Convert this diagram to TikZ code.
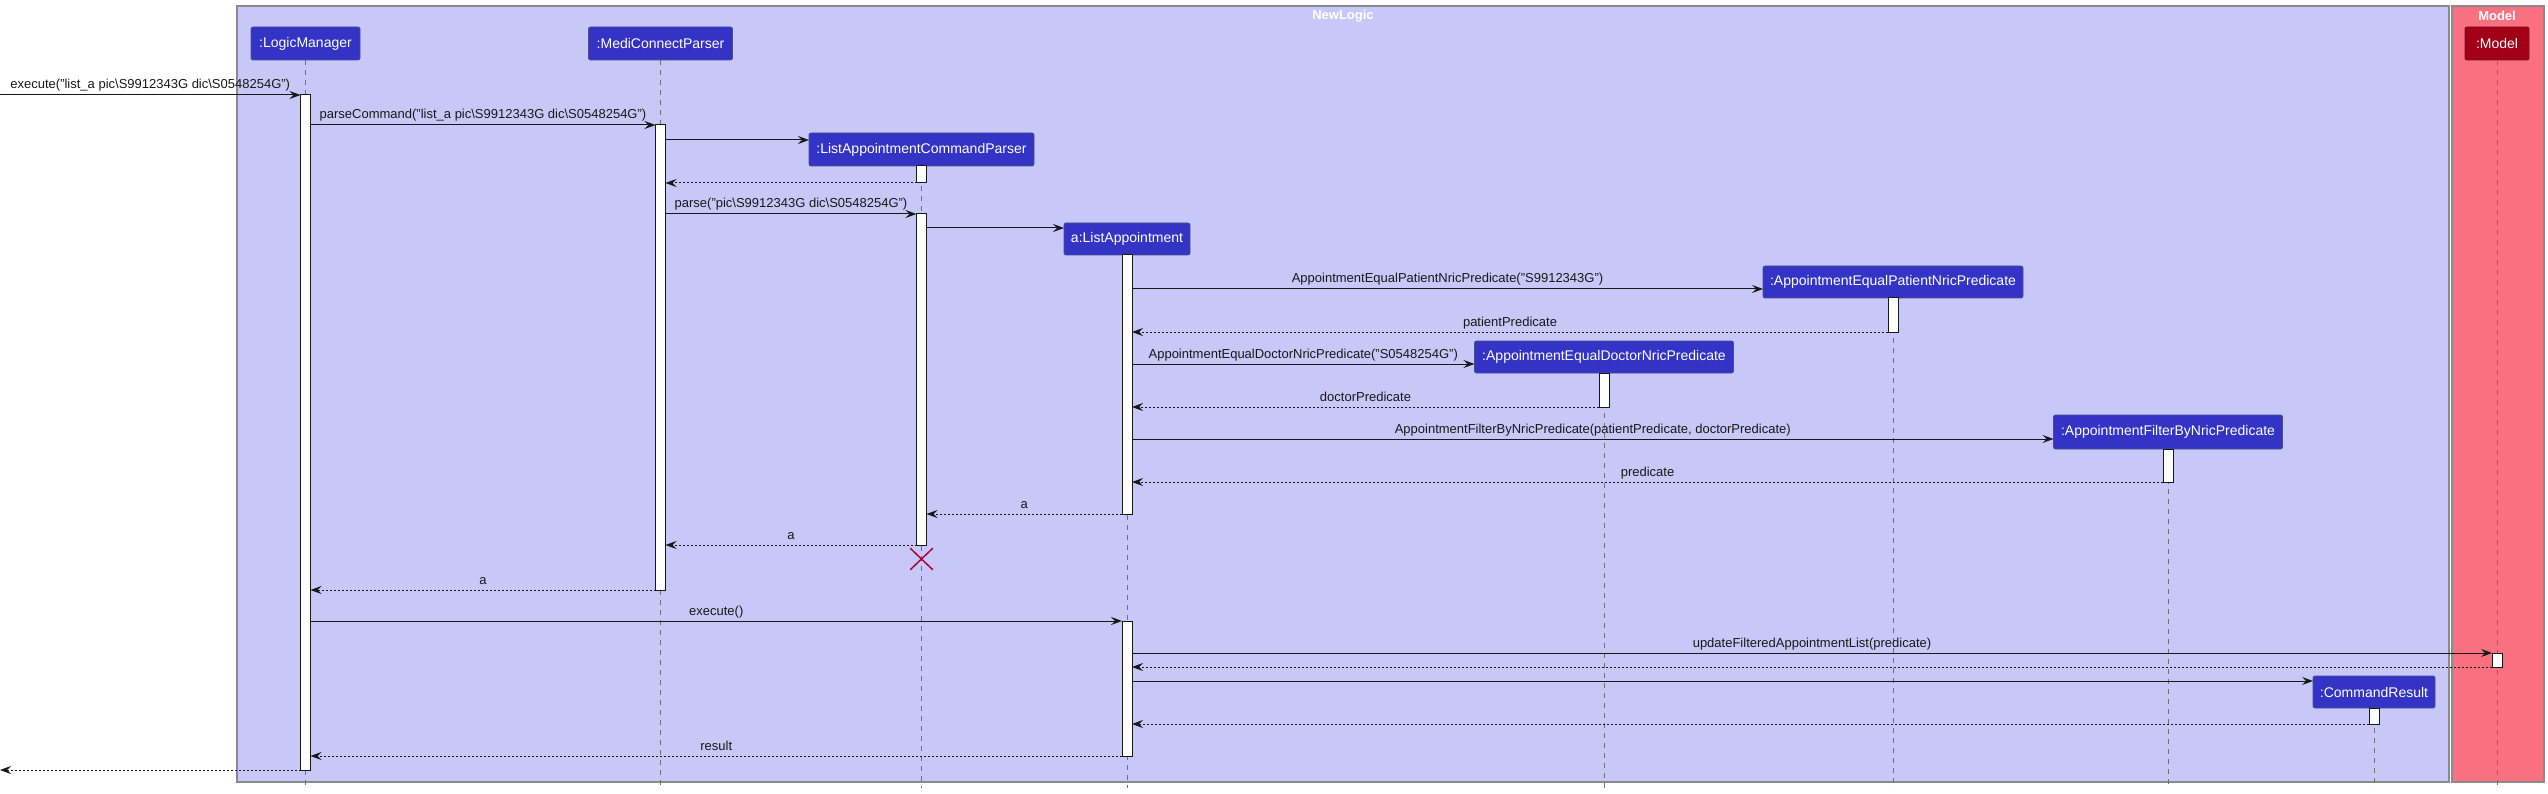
\documentclass[tikz,border=0pt]{standalone}
\usepackage{fontspec}
\setmainfont{Liberation Sans}
\usetikzlibrary{arrows.meta,shapes.misc}
\definecolor{logicbg}{HTML}{C8C8F8}
\definecolor{modelbg}{HTML}{F97181}
\definecolor{partblue}{HTML}{3333C5}
\definecolor{partborder}{HTML}{4B4B90}
\definecolor{modelbox}{HTML}{A10016}
\definecolor{modelborder}{HTML}{7A1020}
\definecolor{framegray}{HTML}{8A8A8A}
\definecolor{lifegray}{HTML}{707070}
\definecolor{destroyred}{HTML}{B0003A}
\definecolor{ink}{HTML}{181818}
\newcommand\bs{\textbackslash}
\newcommand\actbarnode[4]{\node[actbar, minimum height={(#4-#3)*1pt}] (#1) at (#2,{(#3+#4)/2}) {};}
\begin{document}
\begin{tikzpicture}[x=1pt,y=-1pt,
  part/.style={rectangle, rounded corners=2pt, fill=partblue, draw=partborder, line width=0.8pt, text=white, font=\fontsize{14}{16}\selectfont, inner sep=0pt, outer sep=0pt, minimum height=33pt},
  actbar/.style={rectangle, fill=white, draw=ink, line width=1pt, inner sep=0pt, outer sep=0pt, minimum width=10pt},
  lifeline/.style={draw=lifegray, line width=0.7pt, dash pattern=on 5pt off 5pt},
  call/.style={draw=ink, line width=1pt, -{Stealth[length=11pt,width=8pt,inset=4pt]}},
  ret/.style={draw=ink, line width=1pt, dash pattern=on 2pt off 2pt, -{Stealth[length=11pt,width=8pt,inset=4pt]}},
  lbl/.style={anchor=base, inner sep=0pt, yshift=6pt, font=\fontsize{13}{15}\selectfont, text=ink},
  boxtitle/.style={font=\bfseries\fontsize{13}{15}\selectfont, text=white, inner sep=0pt}
]
\useasboundingbox (0,0) rectangle (2548,794);
% frames
\path[fill=logicbg, draw=framegray, line width=1.2pt] (237,6) rectangle (2449,782);
\path[fill=modelbg, draw=framegray, line width=1.2pt] (2452,6) rectangle (2544,782);
\node[boxtitle] (tlogic) at (1343,16) {NewLogic};
\node[boxtitle] (tmodel) at (2497,16) {Model};
% participants
\node[part, minimum width=109pt] (lm) at (305.5,43.5) {:LogicManager};
\node[part, minimum width=144pt] (mcp) at (660.5,43.5) {:MediConnectParser};
\node[part, minimum width=225pt] (lacp) at (921.5,149.5) {:ListAppointmentCommandParser};
\node[part, minimum width=126pt, minimum height=32pt] (la) at (1127,239) {a:ListAppointment};
\node[part, minimum width=260pt, minimum height=32pt] (peq) at (1893,282) {:AppointmentEqualPatientNricPredicate};
\node[part, minimum width=259pt, minimum height=32pt] (deq) at (1604,357) {:AppointmentEqualDoctorNricPredicate};
\node[part, minimum width=229pt, minimum height=34pt] (fbn) at (2168,432) {:AppointmentFilterByNricPredicate};
\node[part, minimum width=122pt, minimum height=32pt] (cr) at (2374,692) {:CommandResult};
\node[part, fill=modelbox, draw=modelborder, minimum width=64pt] (model) at (2497,43.5) {:Model};
% lifelines
\foreach \p in {lm,mcp,lacp,la,peq,deq,fbn,cr,model}{
  \draw[lifeline] (\p.south) -- (\p.south |- 0,788);
}
% activation bars
\actbarnode{blm}{305.5}{95}{770}
\actbarnode{bmcp}{660.5}{125}{590}
\actbarnode{blacpa}{921.5}{166}{183}
\actbarnode{blacpb}{921.5}{214}{545}
\actbarnode{blaa}{1127}{255}{514}
\actbarnode{bpeq}{1893}{298}{332}
\actbarnode{bdeq}{1604}{373}{407}
\actbarnode{bfbn}{2168}{449}{482}
\actbarnode{blab}{1127}{621}{756}
\actbarnode{bmodel}{2497}{653}{667}
\actbarnode{bcr}{2374}{708}{724}
% free ends at the left edge
\coordinate (inpt) at (0,95);
\coordinate (outpt) at (0,770);
% messages
\draw[call] (inpt) -- node[lbl]{execute("list\_a pic\bs S9912343G dic\bs S0548254G")} (blm.west |- inpt);
\draw[call] (blm.east |- 0,125) -- node[lbl]{parseCommand("list\_a pic\bs S9912343G dic\bs S0548254G")} (bmcp.west |- 0,125);
\draw[call] (bmcp.east |- 0,140) -- (lacp.west |- 0,140);
\draw[ret] (blacpa.south west) -- (bmcp.east |- blacpa.south);
\draw[call] (bmcp.east |- 0,214) -- node[lbl]{parse("pic\bs S9912343G dic\bs S0548254G")} (blacpb.north west);
\draw[call] (blacpb.east |- 0,228) -- (la.west |- 0,228);
\draw[call] (blaa.east |- 0,289) -- node[lbl]{AppointmentEqualPatientNricPredicate("S9912343G")} (peq.west |- 0,289);
\draw[ret] (bpeq.south west) -- node[lbl]{patientPredicate} (blaa.east |- bpeq.south);
\draw[call] (blaa.east |- 0,364) -- node[lbl]{AppointmentEqualDoctorNricPredicate("S0548254G")} (deq.west |- 0,364);
\draw[ret] (bdeq.south west) -- node[lbl]{doctorPredicate} (blaa.east |- bdeq.south);
\draw[call] (blaa.east |- 0,439) -- node[lbl]{AppointmentFilterByNricPredicate(patientPredicate, doctorPredicate)} (fbn.west |- 0,439);
\draw[ret] (bfbn.south west) -- node[lbl]{predicate} (blaa.east |- bfbn.south);
\draw[ret] (blaa.south west) -- node[lbl]{a} (blacpb.east |- blaa.south);
\draw[ret] (blacpb.south west) -- node[lbl]{a} (bmcp.east |- blacpb.south);
\node[cross out, draw=destroyred, line width=1.5pt, minimum width=21pt, minimum height=20pt, inner sep=0pt] (lacpx) at (921.5,559) {};
\draw[ret] (bmcp.south west) -- node[lbl]{a} (blm.east |- bmcp.south);
\draw[call] (blm.east |- blab.north) -- node[lbl]{execute()} (blab.north west);
\draw[call] (blab.east |- bmodel.north) -- node[lbl]{updateFilteredAppointmentList(predicate)} (bmodel.north west);
\draw[ret] (bmodel.south west) -- (blab.east |- bmodel.south);
\draw[call] (blab.east |- 0,681) -- (cr.west |- 0,681);
\draw[ret] (bcr.south west) -- (blab.east |- bcr.south);
\draw[ret] (blab.south west) -- node[lbl]{result} (blm.east |- blab.south);
\draw[ret] (blm.south west) -- (outpt);
\end{tikzpicture}
\end{document}
